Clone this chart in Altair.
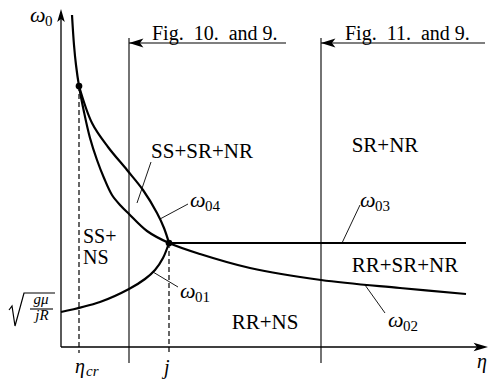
import altair as alt
import pandas as pd

# ---------------- data (schematic units: eta to the right, omega upward, origin = axes corner)
# boundary curves
w02_eta = [11, 13, 15, 18, 23, 29, 36, 43, 51, 60, 68, 86, 108, 139, 189, 260, 339, 405]
w02_om = [332, 302, 282, 261, 235, 209, 187, 169, 152, 141, 133, 116, 104, 93, 79, 67, 59, 53]
w04_eta = [18, 31, 47, 66, 82, 96, 103, 108]
w04_om = [261, 224, 200, 177, 157, 134, 119, 104]
w01_eta = [0, 39, 68, 84, 94, 102, 108]
w01_om = [35, 45, 58, 68, 77, 89, 104]
w03_eta = [108, 405]
w03_om = [104, 104]

# special points
pt_eta = [18, 108]
pt_om = [261, 104]

# eta_cr and j (dashed)
dash_eta = [18, 108]
dash_top = [261, 104]
dash_bottom = -6

# region borders and figure-reference arrows
border_eta = [68, 260]
border_top, border_bottom = 309, -16
figref_from = [68, 260]
figref_to = [225, 424]
figref_om = 304
figref_txt = ["Fig.\u2005 10.\u2005 and 9.", "Fig.\u2005 11.\u2005 and 9."]
figref_txt_eta = [91, 284]
figref_txt_om = 307

# axes
x_axis_end = 427
y_axis_end = 338

# regime labels
regime_txt = ["SS+SR+NR", "SR+NR", "RR+NS", "RR+SR+NR"]
regime_eta = [141, 324, 204, 344]
regime_om = [189, 195, 18, 75]
ssns_txt = ["SS+", "NS"]
ssns_eta = [22, 22]
ssns_om = [104, 83]

# omega labels and leaders
omega_sub = ["0", "04", "01", "02", "03"]
omega_eta = [-31, 129, 119, 327, 299]
omega_om = [325, 140, 49, 20, 140]
leader_eta0 = [76, 99, 92, 304, 281]
leader_om0 = [144, 128, 75, 62, 104]
leader_eta1 = [90, 127, 117, 324, 299]
leader_om1 = [185, 143, 60, 34, 142]

# axis labels
eta_lab_eta, eta_lab_om = [416, 14], [-21, -26]
j_eta, j_om = 103, -27

# sqrt(g mu / j R) at the omega axis
rad_eta = [-52, -49, -46, -37, -6]
rad_om = [37, 41, 21, 54, 54]
frac_eta = [-31, -8]
frac_om = 38
num_eta, num_om = -20, 43
den_eta, den_om = -19, 27

# ---------------- tables
xs = alt.Scale(domain=[-53, 428], nice=False, zero=False)
ys = alt.Scale(domain=[-33, 339], nice=False, zero=False)
X = alt.X("eta:Q", scale=xs, axis=None)
Y = alt.Y("om:Q", scale=ys, axis=None)


def rows(name, etas, oms):
    return [{"id": name, "k": i, "eta": e, "om": o} for i, (e, o) in enumerate(zip(etas, oms))]


curves = pd.DataFrame(rows("w02", w02_eta, w02_om) + rows("w04", w04_eta, w04_om)
                      + rows("w01", w01_eta, w01_om))
straight = pd.DataFrame(rows("w03", w03_eta, w03_om))

thin = []
for i, e in enumerate(border_eta):
    thin += rows(f"b{i}", [e, e], [border_top, border_bottom])
for i, (a, b) in enumerate(zip(figref_from, figref_to)):
    thin += rows(f"f{i}", [a, b], [figref_om, figref_om])
thin += rows("frac", frac_eta, [frac_om, frac_om])
thin_df = pd.DataFrame(thin)

leaders = []
for i in range(len(leader_eta0)):
    leaders += rows(f"l{i}", [leader_eta0[i], leader_eta1[i]], [leader_om0[i], leader_om1[i]])
leader_df = pd.DataFrame(leaders)

axes_df = pd.DataFrame(rows("x", [0, x_axis_end - 8], [0, 0]) + rows("y", [0, 0], [0, y_axis_end - 8]))
rad_df = pd.DataFrame(rows("rad", rad_eta, rad_om))

dash = []
for i, (e, t) in enumerate(zip(dash_eta, dash_top)):
    dash += rows(f"d{i}", [e, e], [t, dash_bottom])
dash_df = pd.DataFrame(dash)

pts_df = pd.DataFrame({"eta": pt_eta, "om": pt_om})


def line(df, width, dash=None, interp="linear"):
    kw = dict(color="black", strokeWidth=width, interpolate=interp)
    if dash:
        kw["strokeDash"] = dash
    return alt.Chart(df).mark_line(**kw).encode(x=X, y=Y, detail="id:N", order="k:Q")


def arrow(etas, oms, path, size):
    return alt.Chart(pd.DataFrame({"eta": etas, "om": oms})).mark_point(
        shape=path, size=size, filled=True, color="black", opacity=1, strokeWidth=0
    ).encode(x=X, y=Y)


def text(txts, etas, oms, size, italic=False, align="left", dx=0, dy=0):
    kw = dict(font="Liberation Serif", fontSize=size, align=align, baseline="alphabetic",
              color="black", dx=dx, dy=dy)
    if italic:
        kw["fontStyle"] = "italic"
    return alt.Chart(pd.DataFrame({"t": txts, "eta": etas, "om": oms})).mark_text(**kw).encode(
        x=X, y=Y, text="t:N")


layers = [
    line(curves, 2.2, interp="catmull-rom"),
    line(straight, 2.2),
    line(thin_df, 1.1),
    line(leader_df, 0.9),
    line(axes_df, 1.3),
    line(rad_df, 1.2),
    line(dash_df, 1.2, dash=[5, 3]),
    alt.Chart(pts_df).mark_circle(size=45, color="black", opacity=1).encode(x=X, y=Y),
    arrow([0], [y_axis_end], "M0,0 L0.55,1.9 L0,1.45 L-0.55,1.9 Z", 190),
    arrow([x_axis_end], [0], "M0,0 L-1.9,-0.55 L-1.45,0 L-1.9,0.55 Z", 230),
    arrow(figref_from, [figref_om] * 2, "M0,0 L1.9,-0.6 L1.45,0 L1.9,0.6 Z", 230),
    text(figref_txt, figref_txt_eta, [figref_txt_om] * 2, 20),
    text(regime_txt, regime_eta, regime_om, 21, align="center"),
    text(ssns_txt, ssns_eta, ssns_om, 20),
    text(["\u03c9"] * len(omega_sub), omega_eta, omega_om, 22, italic=True),
    text(omega_sub, omega_eta, omega_om, 15, dx=15, dy=4),
    text(["\u03b7", "\u03b7"], eta_lab_eta, eta_lab_om, 20, italic=True),
    text(["cr"], [eta_lab_eta[1]], [eta_lab_om[1]], 15, italic=True, dx=11, dy=3),
    text(["j"], [j_eta], [j_om], 20, italic=True),
    text(["g\u03bc"], [num_eta], [num_om], 15, italic=True, align="center"),
    text(["jR"], [den_eta], [den_om], 15, italic=True, align="center"),
]

chart = alt.layer(*layers).properties(
    width=481, height=372, autosize=alt.AutoSizeParams(type="none"), padding=0
).configure_view(stroke=None)

chart.save("out.html", embed_options={"renderer": "svg", "actions": False})
